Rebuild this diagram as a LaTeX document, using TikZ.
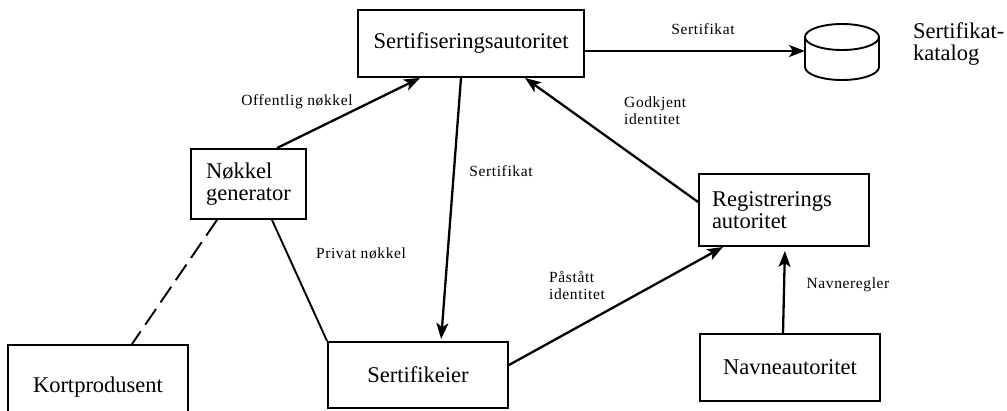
\documentclass[tikz,border=0pt]{standalone}
\usepackage{fontspec}
\setmainfont{Liberation Serif}
\newfontfamily\lblfont{Liberation Serif}[LetterSpace=4]
\usetikzlibrary{arrows.meta,calc}
\begin{document}
\begin{tikzpicture}[x=1pt,y=-1pt,
  box/.style={draw,line width=1.9pt,inner sep=0pt,align=center,
    font=\fontsize{22.5}{22}\selectfont},
  lbl/.style={inner sep=0pt,font=\lblfont\fontsize{15.5}{17}\selectfont},
  flow/.style={line width=2.3pt,-{Stealth[length=16pt,width=12pt,inset=4pt]}},
  link/.style={line width=1.9pt},
]
\useasboundingbox (0,0) rectangle (1007,410);
\clip (0,0) rectangle (1007,410);

% boxes
\node[box,minimum width=226pt,minimum height=67pt] (sa) at (471,43.5) {Sertifiseringsautoritet};
\node[box,minimum width=115pt,minimum height=70pt,align=left] (nk) at (248.5,184) {Nøkkel\\generator};
\node[box,minimum width=170pt,minimum height=72pt,text width=144pt,align=left] (ra) at (784,210) {Registrerings\\autoritet};
\node[box,minimum width=180pt,minimum height=66pt] (se) at (418,375) {Sertifikeier};
\node[box,minimum width=180pt,minimum height=67pt] (na) at (790,367.5) {Navneautoritet};
\node[box,minimum width=180pt,minimum height=85pt] (kp) at (98,387.5) {Kortprodusent};

% certificate directory (cylinder)
\coordinate (cyl) at (805,51);
\draw[link] (842,37) ellipse[x radius=37pt,y radius=13pt];
\draw[link] (805,37) -- (805,67) arc[start angle=180,end angle=360,x radius=37pt,y radius=13pt] -- (879,37);
\node[anchor=west,align=left,inner sep=0pt,font=\fontsize{22.5}{22}\selectfont] (katalog) at (913,44) {Sertifikat-\\katalog};

% connectors
\draw[flow] ([yshift=-7.5pt]sa.east) -- (cyl);
\draw[flow] ([xshift=28.5pt]nk.north) -- ([xshift=-51pt]sa.south);
\draw[flow,shorten >=2pt] ([xshift=-10pt]sa.south) -- ([xshift=23pt]se.north);
\draw[flow] ([yshift=8pt]ra.west) -- ([xshift=54pt]sa.south);
\draw[flow] ([yshift=10pt]se.east) -- ([xshift=-61pt]ra.south);
\draw[flow,shorten >=4pt] ([xshift=-7pt]na.north) -- ([xshift=1pt]ra.south);
\draw[link] ([xshift=23.5pt]nk.south) -- (se.north west);
\draw[link,dash pattern=on 19pt off 8pt] ([xshift=-31.5pt]nk.south) -- ([xshift=34pt]kp.north);

% connector labels
\node[lbl] (l1) at (703,29) {Sertifikat};
\node[lbl] (l2) at (297,102) {Offentlig nøkkel};
\node[lbl] (l3) at (501,171) {Sertifikat};
\node[lbl,anchor=west,align=left] (l4) at (624,111) {Godkjent\\identitet};
\node[lbl] (l5) at (361,253) {Privat nøkkel};
\node[lbl,anchor=west,align=left] (l6) at (549,285) {Påstått\\identitet};
\node[lbl] (l7) at (848,285) {Navneregler};
\end{tikzpicture}
\end{document}
